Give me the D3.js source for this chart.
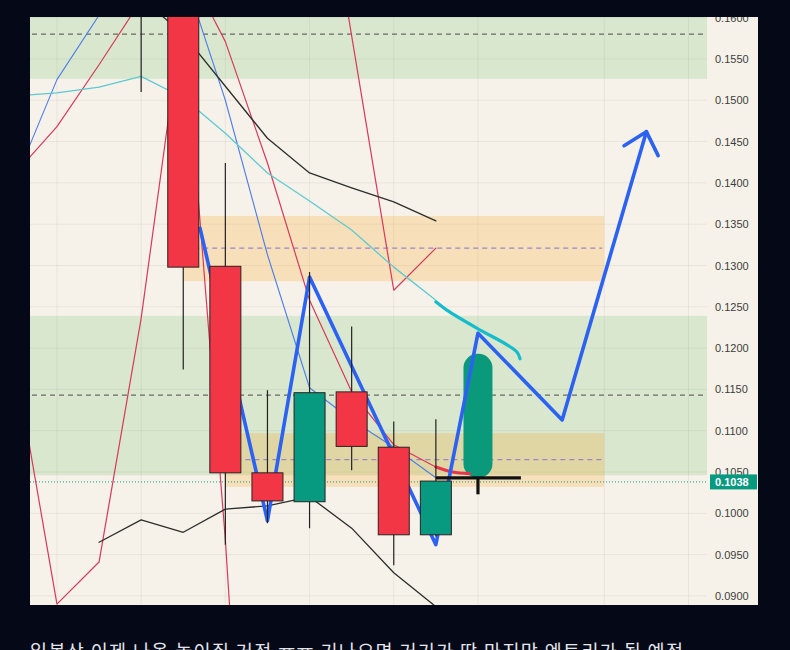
<!DOCTYPE html>
<html>
<head>
<meta charset="utf-8">
<script src="https://cdn.jsdelivr.net/npm/d3@7"></script>
<style>
    body { margin: 0; background: #040817; }
    svg { display: block; }
</style>
</head>
<body>
<svg id="chart" width="790" height="650"></svg>
<script>
// price axis ticks
let priceTicks = [0.0900, 0.0950, 0.1000, 0.1050, 0.1100, 0.1150, 0.1200, 0.1250, 0.1300,
    0.1350, 0.1400, 0.1450, 0.1500, 0.1550, 0.1600]
let lastPrice = 0.1038

// candles (bar index, OHLC)
let candleIdx = [2, 3, 4, 5, 6, 7, 8, 9]
let opens  = [0.1650, 0.1700, 0.1299, 0.1049, 0.1014, 0.1147, 0.1080, 0.0974]
let highs  = [0.1720, 0.1750, 0.1424, 0.1149, 0.1292, 0.1226, 0.1111, 0.1114]
let lows   = [0.1510, 0.1174, 0.0962, 0.0988, 0.0982, 0.1052, 0.0937, 0.0972]
let closes = [0.1690, 0.1298, 0.1049, 0.1015, 0.1146, 0.1081, 0.0974, 0.1039]

// indicator lines
let upperBandIdx = [2, 3, 4, 5, 6, 7, 8, 9]
let upperBand = [0.1624, 0.1580, 0.1517, 0.1454, 0.1412, 0.1394, 0.1377, 0.1354]
let lowerBandIdx = [1, 2, 3, 4, 5, 6, 7, 8, 9]
let lowerBand = [0.0965, 0.0992, 0.0977, 0.1005, 0.1009, 0.1020, 0.0982, 0.0928, 0.0887]
let cyanIdx = [-1, 0, 1, 2, 3, 4, 5, 6, 7, 8, 9]
let cyanLine = [0.1505, 0.1509, 0.1516, 0.1529, 0.1503, 0.1460, 0.1412, 0.1378, 0.1343, 0.1298, 0.1258]
let blueIdx = [-1, 0, 1, 2, 3, 4, 5, 6, 7, 8, 9]
let blueLine = [0.1402, 0.1525, 0.1603, 0.1694, 0.1655, 0.1500, 0.1313, 0.1152, 0.1113, 0.1080, 0.1043]
let redAIdx = [-1, 0, 1, 2, 3, 4, 5, 6, 7, 8, 9]
let redA = [0.1411, 0.1468, 0.1543, 0.1621, 0.1670, 0.1571, 0.1424, 0.1258, 0.1147, 0.1083, 0.1056]
let redB1Idx = [-1, 0, 1, 2, 3, 4, 5]
let redB1 = [0.1184, 0.0890, 0.0941, 0.1236, 0.1609, 0.0968, 0.0169]
let redB2Idx = [6, 7, 8, 9]
let redB2 = [0.1888, 0.1578, 0.1270, 0.1321]

// hand drawings
let pathIdx = [3.4, 5, 6, 9, 10, 12, 14]
let pathPrice = [0.1345, 0.0991, 0.1286, 0.0962, 0.1218, 0.1113, 0.1462]
let arrowIdx = [13.47, 14, 14.28]
let arrowPrice = [0.1445, 0.1462, 0.1433]
let cyanStrokeIdx = [9.0, 9.26, 9.98, 10.69, 10.93, 11.0]
let cyanStroke = [0.1256, 0.1246, 0.1224, 0.1204, 0.1195, 0.1187]
let redStrokeIdx = [9.0, 9.4, 9.8]
let redStroke = [0.1056, 0.1050, 0.1048]

// zones [fromIdx, toIdx, low, high, mid]
let greenZones = [[-0.64, 15.44, 0.1526, 0.1750, 0.1580], [-0.64, 15.44, 0.1046, 0.1239, 0.1143]]
let orangeZones = [[3, 13, 0.1281, 0.1360, 0.1321], [4, 13, 0.1032, 0.1097, 0.1065]]
let gridIdx = [0, 2, 4, 6, 8, 10, 13, 15]

let caption = "일봉상 이제 나올 놓이질 거전 ㅠㅠ 기나오면 거기가 딱 마지막 엔트리가 될 예정"

let svg = d3.select('#chart')
svg.append('rect').attr('width', 790).attr('height', 650).attr('fill', '#040817')
svg.append('rect').attr('x', 30).attr('y', 17).attr('width', 728).attr('height', 588).attr('fill', '#f6f2e9')

let x = d3.scaleLinear().domain([-0.64, 15.44]).range([30, 707])
let y = d3.scaleLinear().domain([0.0889, 0.16008]).range([605, 17])

let defs = svg.append('defs')
defs.append('clipPath').attr('id', 'plotClip')
    .append('rect').attr('x', 30).attr('y', 17).attr('width', 677).attr('height', 588)
defs.append('clipPath').attr('id', 'axisClip')
    .append('rect').attr('x', 30).attr('y', 17).attr('width', 728).attr('height', 588)

let plot = svg.append('g').attr('clip-path', 'url(#plotClip)')

// grid
plot.selectAll('.hgrid').data(priceTicks).enter().append('line')
    .attr('x1', 30).attr('x2', 707)
    .attr('y1', d => y(d)).attr('y2', d => y(d))
    .attr('stroke', 'rgba(0,0,0,0.055)')
plot.selectAll('.vgrid').data(gridIdx).enter().append('line')
    .attr('x1', d => x(d)).attr('x2', d => x(d))
    .attr('y1', 17).attr('y2', 605)
    .attr('stroke', 'rgba(0,0,0,0.055)')

// zones
function drawZones(zones, fill, dash) {
    zones.forEach(z => {
        plot.append('rect')
            .attr('x', x(z[0])).attr('width', x(z[1]) - x(z[0]))
            .attr('y', y(z[3])).attr('height', y(z[2]) - y(z[3]))
            .attr('fill', fill)
        plot.append('line')
            .attr('x1', x(z[0]) + 2).attr('x2', x(z[1]) - 2)
            .attr('y1', y(z[4])).attr('y2', y(z[4]))
            .attr('stroke', dash).attr('stroke-width', 1.3)
            .attr('stroke-dasharray', '5,4')
    })
}
drawZones(greenZones, 'rgba(76,175,80,0.17)', '#6a6a66')
drawZones(orangeZones, 'rgba(255,152,0,0.2)', '#9c86c8')

// last price line
plot.append('line')
    .attr('x1', 30).attr('x2', 707)
    .attr('y1', y(lastPrice)).attr('y2', y(lastPrice))
    .attr('stroke', '#089981').attr('stroke-dasharray', '1,2')

let line = d3.line().x(d => x(d[0])).y(d => y(d[1]))
function series(idx, vals) { return idx.map((d, i) => [d, vals[i]]) }

function drawLine(idx, vals, color, width, curve) {
    let gen = curve ? d3.line().x(d => x(d[0])).y(d => y(d[1])).curve(curve) : line
    plot.append('path')
        .attr('d', gen(series(idx, vals)))
        .attr('fill', 'none')
        .attr('stroke', color)
        .attr('stroke-width', width)
        .attr('stroke-linejoin', 'round')
        .attr('stroke-linecap', 'round')
}

// indicator lines (under the candles)
drawLine(redB1Idx, redB1, '#d6395b', 1.2)
drawLine(redB2Idx, redB2, '#d6395b', 1.2)
drawLine(redAIdx, redA, '#d6395b', 1.2)
drawLine(blueIdx, blueLine, '#4d7ee8', 1.1)
drawLine(cyanIdx, cyanLine, '#5dc9d2', 1.3)
drawLine(upperBandIdx, upperBand, '#2b2e2a', 1.3)
drawLine(lowerBandIdx, lowerBand, '#2b2e2a', 1.3)

// hand drawn green candle + projection path (under real candles)
let handW = 29
plot.append('rect')
    .attr('x', x(10) - handW / 2).attr('width', handW)
    .attr('y', y(0.1193)).attr('height', y(0.1043) - y(0.1193))
    .attr('rx', 14).attr('ry', 14)
    .attr('fill', '#0a9a7b')
drawLine(redStrokeIdx, redStroke, '#e5364b', 3.2, d3.curveCatmullRom)
drawLine(pathIdx, pathPrice, '#2c62f2', 3.6)
drawLine(arrowIdx, arrowPrice, '#2c62f2', 3.6)

// candles
let bodyW = 31
let candles = plot.selectAll('.candle')
    .data(candleIdx.map((d, i) => ({i: d, o: opens[i], h: highs[i], l: lows[i], c: closes[i]})))
    .enter().append('g')
candles.append('line')
    .attr('x1', d => x(d.i)).attr('x2', d => x(d.i))
    .attr('y1', d => y(d.h)).attr('y2', d => y(d.l))
    .attr('stroke', '#222').attr('stroke-width', 1.2)
candles.append('rect')
    .attr('x', d => x(d.i) - bodyW / 2).attr('width', bodyW)
    .attr('y', d => y(Math.max(d.o, d.c)))
    .attr('height', d => Math.abs(y(d.o) - y(d.c)))
    .attr('fill', d => d.c >= d.o ? '#089981' : '#f23645')
    .attr('stroke', '#2a2222').attr('stroke-width', 1)

// drawings above candles
drawLine(cyanStrokeIdx, cyanStroke, '#16bccb', 3.2, d3.curveCatmullRom)
plot.append('line')
    .attr('x1', x(9)).attr('x2', x(11.02))
    .attr('y1', y(0.1043)).attr('y2', y(0.1043))
    .attr('stroke', '#111').attr('stroke-width', 3.2)
plot.append('line')
    .attr('x1', x(10)).attr('x2', x(10))
    .attr('y1', y(0.1043)).attr('y2', y(0.1023))
    .attr('stroke', '#111').attr('stroke-width', 3.2)

// price axis
let axisG = svg.append('g').attr('clip-path', 'url(#axisClip)')
    .append('g').attr('transform', 'translate(709,0)')
    .call(d3.axisRight(y).tickValues(priceTicks).tickSize(0).tickPadding(6).tickFormat(d3.format('.4f')))
axisG.select('.domain').remove()
axisG.selectAll('text')
    .style('font-family', '"Liberation Sans", Arial, sans-serif')
    .style('font-size', '11px')
    .attr('fill', '#3d3d3d')

// last price tag
svg.append('rect')
    .attr('x', 710).attr('y', y(lastPrice) - 7.5)
    .attr('width', 47).attr('height', 15)
    .attr('fill', '#089981')
svg.append('text')
    .attr('x', 715).attr('y', y(lastPrice) + 4)
    .attr('fill', '#fff')
    .style('font-family', '"Liberation Sans", Arial, sans-serif')
    .style('font-size', '11px').style('font-weight', 'bold')
    .text(d3.format('.4f')(lastPrice))

// caption under the chart (cut by the window)
svg.append('text')
    .attr('x', 30).attr('y', 658)
    .attr('fill', '#e4e6ec')
    .attr('textLength', 653).attr('lengthAdjust', 'spacing')
    .style('font-family', '"Noto Sans CJK KR", sans-serif')
    .style('font-size', '18.5px')
    .text(caption)
</script>
</body>
</html>
